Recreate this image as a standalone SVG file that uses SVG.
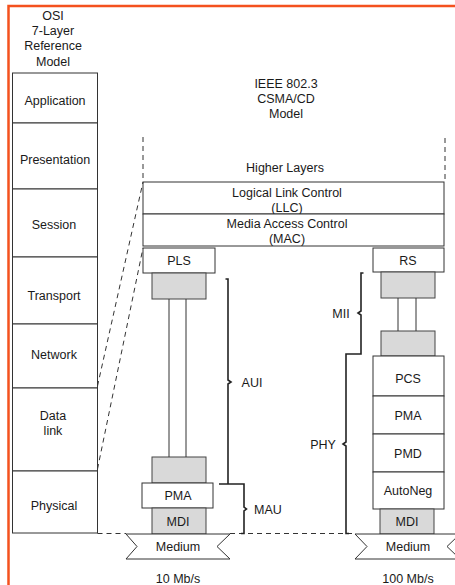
<svg xmlns="http://www.w3.org/2000/svg" width="455" height="585" viewBox="0 0 455 585">
<style>
text{font-family:"Liberation Sans",Arial,sans-serif;font-size:12.5px;fill:#1a1a1a;text-anchor:middle}
.box{fill:#fff;stroke:#333;stroke-width:1}
.gray{fill:#d9d9d9;stroke:#444;stroke-width:1}
.ln{fill:none;stroke:#333;stroke-width:1}
.dash{fill:none;stroke:#333;stroke-width:1;stroke-dasharray:5 4}
.brace{fill:none;stroke:#222;stroke-width:1.6}
</style>
<rect width="455" height="585" fill="#fff"/>
<path d="M8.5,590 L8.5,6 L460,6" fill="none" stroke="#f4511e" stroke-width="2.5"/>

<g id="osi">
<text x="53" y="19.5">OSI</text>
<text x="53" y="34.5">7-Layer</text>
<text x="53" y="49.5">Reference</text>
<text x="53" y="65.5">Model</text>
<g id="osi-application"><rect class="box" x="12.5" y="73" width="85" height="50"/><text x="55" y="104.5">Application</text></g>
<g id="osi-presentation"><rect class="box" x="12.5" y="123" width="85" height="66"/><text x="55" y="163.5">Presentation</text></g>
<g id="osi-session"><rect class="box" x="12.5" y="189" width="85" height="68"/><text x="54" y="228.5">Session</text></g>
<g id="osi-transport"><rect class="box" x="12.5" y="257" width="85" height="67"/><text x="54" y="299.5">Transport</text></g>
<g id="osi-network"><rect class="box" x="12.5" y="324" width="85" height="64"/><text x="54" y="358.5">Network</text></g>
<g id="osi-datalink"><rect class="box" x="12.5" y="388" width="85" height="83"/><text x="53" y="419.5">Data</text><text x="53" y="434.5">link</text></g>
<g id="osi-physical"><rect class="box" x="12.5" y="471" width="85" height="62"/><text x="54" y="509.5">Physical</text></g>
</g>

<g id="ieee-title">
<text x="286" y="88">IEEE 802.3</text>
<text x="286" y="103">CSMA/CD</text>
<text x="286" y="118">Model</text>
</g>
<g id="higher-layers"><text x="285" y="171.5">Higher Layers</text></g>
<g id="llc"><rect class="box" x="143" y="182" width="301" height="32"/><text x="287" y="196.5">Logical Link Control</text><text x="287" y="211.5">(LLC)</text></g>
<g id="mac"><rect class="box" x="143" y="214" width="301" height="32"/><text x="287" y="227.5">Media Access Control</text><text x="287" y="242.5">(MAC)</text></g>

<g id="pls"><rect class="box" x="143" y="248" width="72" height="25"/><text x="179" y="265">PLS</text></g>
<g id="aui-top"><rect class="gray" x="152" y="273" width="54" height="26"/></g>
<g id="aui-bottom"><rect class="gray" x="152" y="457" width="54" height="26"/></g>
<g id="pma-10"><rect class="box" x="142" y="483" width="71" height="25"/><text x="178" y="500">PMA</text></g>
<g id="mdi-10"><rect class="gray" x="152" y="508" width="54" height="26"/><text x="178" y="525.5">MDI</text></g>
<g id="medium-10"><polygon class="box" points="126,534 230,534 217,546.5 230,559 126,559 137,546.5"/><text x="178" y="551">Medium</text></g>
<g id="rate-10"><text x="178" y="582.5">10 Mb/s</text></g>

<g id="rs"><rect class="box" x="373" y="248" width="71" height="24"/><text x="408" y="264.5">RS</text></g>
<g id="mii-top"><rect class="gray" x="381" y="272" width="54" height="26"/></g>
<g id="mii-bottom"><rect class="gray" x="381" y="331" width="54" height="25"/></g>
<g id="pcs"><rect class="box" x="373" y="356" width="71" height="40"/><text x="408" y="382.5">PCS</text></g>
<g id="pma-100"><rect class="box" x="373" y="396" width="71" height="38"/><text x="408" y="419.5">PMA</text></g>
<g id="pmd"><rect class="box" x="373" y="434" width="71" height="38"/><text x="408" y="458">PMD</text></g>
<g id="autoneg"><rect class="box" x="373" y="472" width="71" height="37"/><text x="408" y="494.5">AutoNeg</text></g>
<g id="mdi-100"><rect class="gray" x="380" y="509" width="54" height="25"/><text x="407" y="526">MDI</text></g>
<g id="medium-100"><polygon class="box" points="355,534 460,534 447,546.5 460,559 355,559 367,546.5"/><text x="408" y="551">Medium</text></g>
<g id="rate-100"><text x="408" y="582.5">100 Mb/s</text></g>

<g id="labels">
<text x="252" y="386.5">AUI</text>
<text x="268" y="513.5">MAU</text>
<text x="341" y="317.5">MII</text>
<text x="323" y="448.5">PHY</text>
</g>

<g id="connectors">
<line class="ln" x1="169" y1="299" x2="169" y2="457"/>
<line class="ln" x1="186" y1="299" x2="186" y2="457"/>
<line class="ln" x1="398" y1="298" x2="398" y2="331"/>
<line class="ln" x1="416" y1="298" x2="416" y2="331"/>
<line class="dash" x1="143" y1="137" x2="143" y2="182"/>
<line class="dash" x1="445" y1="138" x2="445" y2="182"/>
<line class="dash" x1="97.5" y1="386" x2="143" y2="182"/>
<line class="dash" x1="97.5" y1="469" x2="143" y2="248"/>
<line class="dash" x1="97.5" y1="533.5" x2="126" y2="533.5"/>
<line class="dash" x1="230" y1="533.5" x2="355" y2="533.5"/>
<path class="brace" d="M225.5,279 L228,279 L228,380 L231,382 L228,384 L228,484 M219,484 L244,484 L244,507 L246.5,509 L244,511 L244,533.5 L241,533.5"/>
<path class="brace" d="M363.5,273 L361,273 L361,311 L358,313 L361,315 L361,354 L346,354 L346,442 L343,444 L346,446 L346,533.5 L349,533.5"/>
</g>
</svg>
